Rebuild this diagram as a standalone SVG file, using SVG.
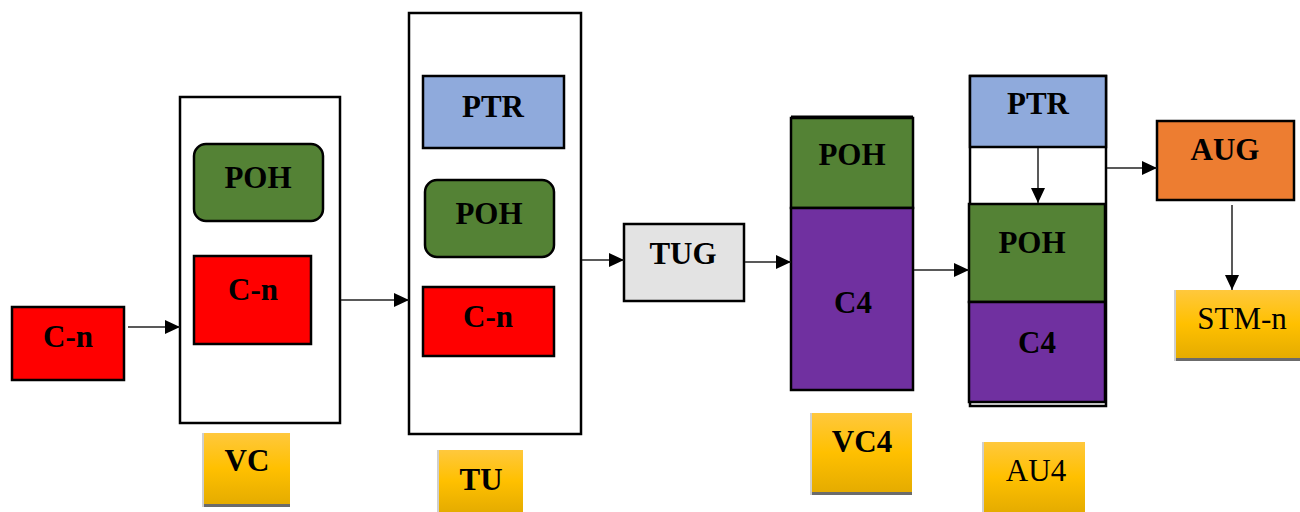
<svg xmlns="http://www.w3.org/2000/svg" width="1300" height="512" viewBox="0 0 1300 512">
  <style>
    .box { stroke: #000; stroke-width: 2.5; }
    .frame { fill: #fff; stroke: #000; stroke-width: 2.5; }
    .red { fill: #ff0000; }
    .green { fill: #548235; }
    .blue { fill: #8faadc; }
    .purple { fill: #7030a0; }
    .grey { fill: #e3e3e3; }
    .orange { fill: #ed7d31; }
    .t { font-family: "Liberation Serif", "Times New Roman", serif; font-size: 31px; font-weight: bold; fill: #000; text-anchor: middle; }
    .r { font-weight: normal; }
    .wire { stroke: #222; stroke-width: 1.5; fill: none; marker-end: url(#head); }
    .shadow { fill: #6b6b6b; }
    .edge { fill: #cfcfcf; }
  </style>
  <defs>
    <marker id="head" markerWidth="16" markerHeight="14" refX="15" refY="7" orient="auto" markerUnits="userSpaceOnUse">
      <path d="M0,0 L15,7 L0,14 Z" fill="#000"/>
    </marker>
    <linearGradient id="gold" x1="0" y1="0" x2="0" y2="1">
      <stop offset="0" stop-color="#ffc83d"/>
      <stop offset="0.5" stop-color="#ffc000"/>
      <stop offset="1" stop-color="#e5ac00"/>
    </linearGradient>
  </defs>

  <!-- container C-n -->
  <g id="cn">
    <rect class="box red" x="12" y="307" width="112" height="73"/>
    <text class="t" x="68" y="347">C-n</text>
  </g>

  <!-- virtual container -->
  <g id="vc">
    <rect class="frame" x="180" y="97" width="160" height="326"/>
    <rect class="box green" x="194" y="144" width="129" height="77" rx="12"/>
    <text class="t" x="258" y="188">POH</text>
    <rect class="box red" x="194" y="256" width="117" height="88"/>
    <text class="t" x="253" y="300">C-n</text>
  </g>

  <!-- tributary unit -->
  <g id="tu">
    <rect class="frame" x="409" y="13" width="172" height="421"/>
    <rect class="box blue" x="423" y="76" width="141" height="72"/>
    <text class="t" x="493" y="117">PTR</text>
    <rect class="box green" x="425" y="180" width="129" height="77" rx="12"/>
    <text class="t" x="489" y="224">POH</text>
    <rect class="box red" x="423" y="287" width="131" height="69"/>
    <text class="t" x="488" y="327">C-n</text>
  </g>

  <!-- tributary unit group -->
  <g id="tug">
    <rect class="box grey" x="624" y="224" width="120" height="77"/>
    <text class="t" x="683" y="264">TUG</text>
  </g>

  <!-- VC-4 -->
  <g id="vc4">
    <rect class="box green" x="791" y="118" width="122" height="90"/>
    <line x1="791" y1="117" x2="913" y2="117" stroke="#000" stroke-width="3"/>
    <text class="t" x="852" y="165">POH</text>
    <rect class="box purple" x="791" y="208" width="122" height="182"/>
    <text class="t" x="853" y="313">C4</text>
  </g>

  <!-- AU-4 -->
  <g id="au4">
    <rect class="frame" x="970" y="76" width="136" height="330"/>
    <rect class="box blue" x="970" y="76" width="136" height="71"/>
    <text class="t" x="1038" y="114">PTR</text>
    <rect class="box green" x="969" y="204" width="136" height="98"/>
    <text class="t" x="1032" y="253">POH</text>
    <rect class="box purple" x="969" y="302" width="136" height="100"/>
    <text class="t" x="1037" y="353">C4</text>
  </g>

  <!-- administrative unit group -->
  <g id="aug">
    <rect class="box orange" x="1157" y="121" width="137" height="79"/>
    <text class="t" x="1225" y="160">AUG</text>
  </g>

  <!-- caption tags -->
  <g id="tag-vc">
    <rect class="edge" x="202" y="433" width="88" height="74"/>
    <rect x="204" y="433" width="86" height="71" fill="url(#gold)"/>
    <rect class="shadow" x="204" y="504" width="86" height="3"/>
    <text class="t" x="247" y="471">VC</text>
  </g>
  <g id="tag-tu">
    <rect class="edge" x="437" y="450" width="86" height="62"/>
    <rect x="439" y="450" width="84" height="62" fill="url(#gold)"/>
    <text class="t" x="481" y="490">TU</text>
  </g>
  <g id="tag-vc4">
    <rect class="edge" x="810" y="413" width="102" height="82"/>
    <rect x="812" y="413" width="100" height="79" fill="url(#gold)"/>
    <rect class="shadow" x="812" y="492" width="100" height="3"/>
    <text class="t" x="862" y="452">VC4</text>
  </g>
  <g id="tag-au4">
    <rect class="edge" x="982" y="442" width="103" height="70"/>
    <rect x="984" y="442" width="101" height="70" fill="url(#gold)"/>
    <text class="t r" x="1036" y="481">AU4</text>
  </g>
  <g id="tag-stm">
    <rect class="edge" x="1174" y="290" width="126" height="71"/>
    <rect x="1176" y="290" width="124" height="68" fill="url(#gold)"/>
    <rect class="shadow" x="1176" y="358" width="124" height="3"/>
    <text class="t r" x="1242" y="329">STM-n</text>
  </g>

  <!-- connectors -->
  <g id="connectors">
    <line class="wire" x1="128" y1="327" x2="180" y2="327"/>
    <line class="wire" x1="341" y1="300" x2="409" y2="300"/>
    <line class="wire" x1="582" y1="260" x2="624" y2="260"/>
    <line class="wire" x1="745" y1="262" x2="791" y2="262"/>
    <line class="wire" x1="914" y1="270" x2="969" y2="270"/>
    <line class="wire" x1="1038" y1="148" x2="1038" y2="203"/>
    <line class="wire" x1="1107" y1="168" x2="1157" y2="168"/>
    <line class="wire" x1="1232" y1="205" x2="1232" y2="290"/>
  </g>
</svg>
